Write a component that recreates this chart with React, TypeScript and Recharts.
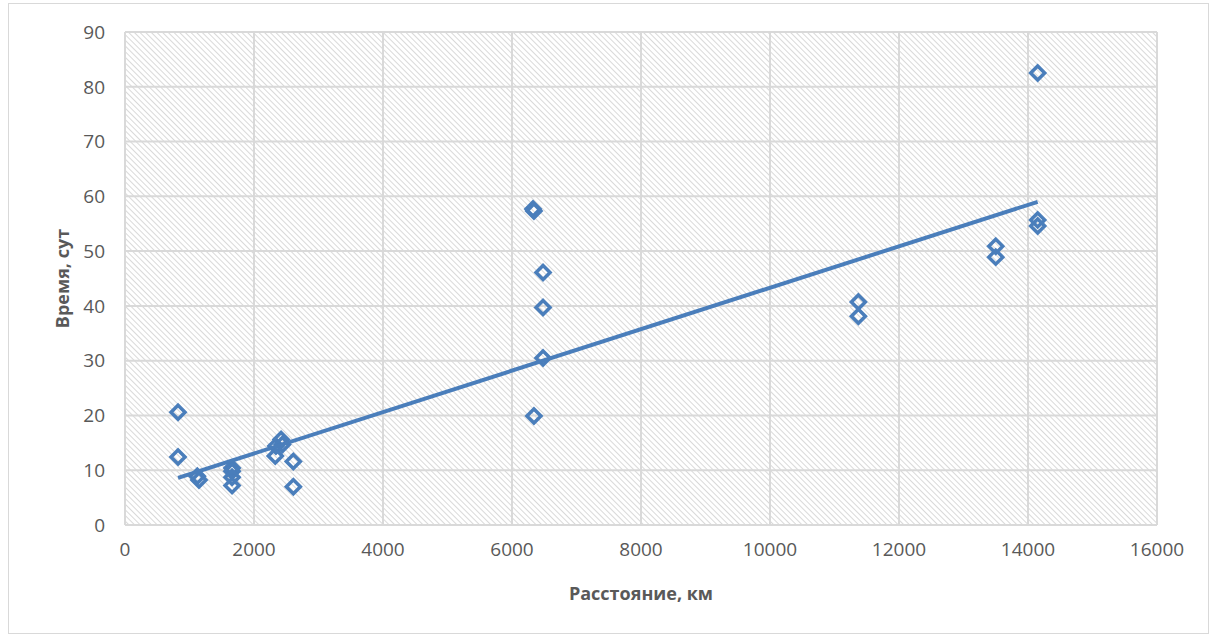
import * as React from 'react';
import {ScatterChart, CartesianGrid, XAxis, YAxis, Scatter} from 'recharts';

// distance (km) and time (days) per shipment
const distances = [822, 822, 1121, 1147, 1660, 1660, 1660, 1660, 2340, 2330, 2420, 2440, 2610, 2610,
    6326, 6340, 6481, 6481, 6481, 6340, 11370, 11370, 13500, 13500, 14150, 14150, 14150];
const times = [20.6, 12.4, 8.9, 8.2, 10.4, 9.8, 8.7, 7.2, 14.4, 12.6, 15.6, 14.7, 11.6, 7.0,
    57.7, 57.3, 46.1, 39.7, 30.5, 19.9, 40.7, 38.1, 50.9, 48.9, 82.5, 55.7, 54.6];

// linear trend endpoints
const trendX = [822, 14150];
const trendY = [8.6, 59.0];

const xTicks = [0, 2000, 4000, 6000, 8000, 10000, 12000, 14000, 16000];
const yTicks = [0, 10, 20, 30, 40, 50, 60, 70, 80, 90];

const BLUE = '#4a7ebb';
const TEXT = '#595959';
const FONT = '"Open Sans", sans-serif';

const points = distances.map((d, i) => ({x: d, y: times[i]}));
const trend = trendX.map((d, i) => ({x: d, y: trendY[i]}));

function Diamond(props: any) {
    const {cx, cy} = props;
    if (cx == null || cy == null) return <g/>;
    const r = 7;
    return (
        <polygon
            points={`${cx},${cy - r} ${cx + r},${cy} ${cx},${cy + r} ${cx - r},${cy}`}
            fill="none" stroke={BLUE} strokeWidth={3.5} strokeLinejoin="miter"
        />
    );
}

export default function App() {
    const tickStyle = {fill: TEXT, fontSize: 19, fontFamily: FONT};
    return (
        <div style={{position: 'absolute', left: 8, top: 3, width: 1201, height: 631,
            boxSizing: 'border-box', border: '1px solid #d9d9d9', background: '#fff'}}>
            <ScatterChart width={1199} height={629} margin={{top: 28, right: 51, bottom: 28, left: 0}}>
                <defs>
                    <pattern id="hatch" patternUnits="userSpaceOnUse" width="4" height="4"
                             patternTransform="rotate(-45)">
                        <rect width="4" height="4" fill="#ffffff"/>
                        <line x1="0" y1="0" x2="0" y2="4" stroke="#d3d3d3" strokeWidth="1.7"/>
                    </pattern>
                </defs>
                <CartesianGrid stroke="#d9d9d9" strokeWidth={2} fill="url(#hatch)" fillOpacity={1}/>
                <XAxis type="number" dataKey="x" domain={[0, 16000]} ticks={xTicks} height={80}
                       axisLine={false} tickLine={false} tickSize={0} tickMargin={18} tick={tickStyle}
                       label={{value: 'Расстояние, км', position: 'insideBottom', offset: 5,
                           style: {fill: TEXT, fontSize: 18, fontWeight: 700, fontFamily: FONT}}}/>
                <YAxis type="number" dataKey="y" domain={[0, 90]} ticks={yTicks} width={116}
                       axisLine={false} tickLine={false} tickSize={0} tickMargin={20} tick={tickStyle}
                       label={{value: 'Время, сут', angle: -90, position: 'insideLeft', offset: 54,
                           style: {fill: TEXT, fontSize: 18, fontWeight: 700, fontFamily: FONT, textAnchor: 'middle'}}}/>
                <Scatter data={points} shape={Diamond} isAnimationActive={false}/>
                <Scatter data={trend} line={{stroke: BLUE, strokeWidth: 4}} shape={() => <g/>}
                         isAnimationActive={false}/>
            </ScatterChart>
        </div>
    );
}
